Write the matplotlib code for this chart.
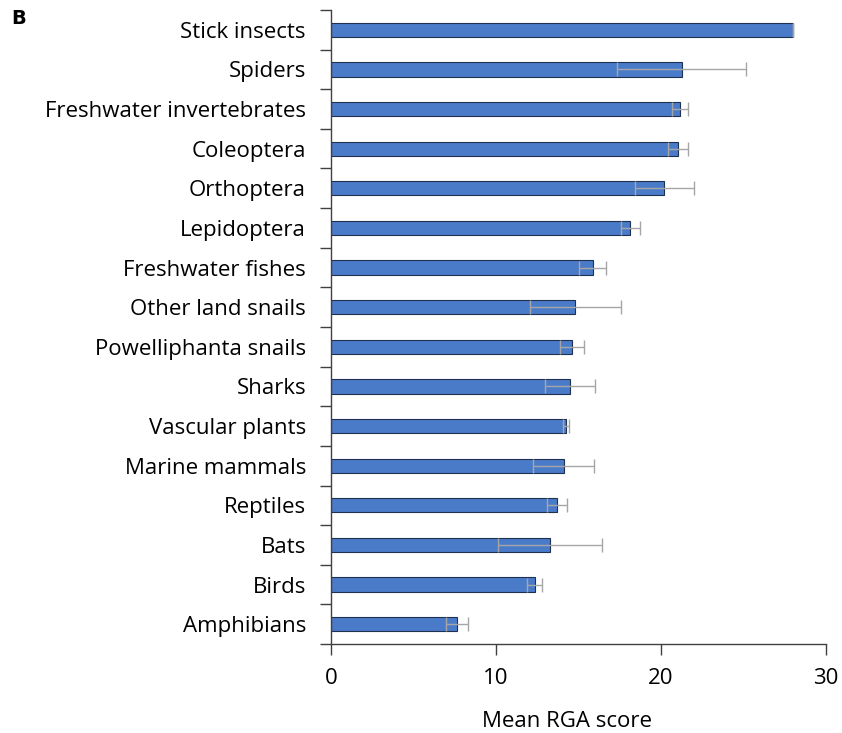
import numpy as np
import matplotlib.pyplot as plt
from matplotlib.ticker import FixedLocator

# Mean RGA score per taxonomic group, with error (+/-)
groups = [
    "Stick insects",
    "Spiders",
    "Freshwater invertebrates",
    "Coleoptera",
    "Orthoptera",
    "Lepidoptera",
    "Freshwater fishes",
    "Other land snails",
    "Powelliphanta snails",
    "Sharks",
    "Vascular plants",
    "Marine mammals",
    "Reptiles",
    "Bats",
    "Birds",
    "Amphibians",
]
mean_score = [28.0, 21.25, 21.15, 21.05, 20.2, 18.15, 15.85, 14.8, 14.6, 14.5,
              14.25, 14.1, 13.7, 13.3, 12.35, 7.65]
err = [0.0, 3.9, 0.5, 0.6, 1.8, 0.55, 0.8, 2.75, 0.72, 1.5,
       0.17, 1.86, 0.6, 3.15, 0.45, 0.67]

plt.rcParams["font.family"] = ["Open Sans", "DejaVu Sans"]

fig = plt.figure(figsize=(8.42, 7.33), dpi=100)
ax = fig.add_axes([0.3931, 0.1214, 0.5879, 0.865])

y = np.arange(len(groups))
ax.barh(y, mean_score, height=0.36, color="#4a7bc9", edgecolor="#1f3050",
        linewidth=0.8, zorder=2)
ax.errorbar(mean_score, y, xerr=err, fmt="none", ecolor="#a6a6a6",
            elinewidth=1.0, capsize=5, capthick=1.0, zorder=3)

ax.set_xlim(0, 30)
ax.set_ylim(len(groups) - 0.5, -0.5)
ax.set_xticks([0, 10, 20, 30])
ax.set_yticks(y)
ax.set_yticklabels(groups)
ax.yaxis.set_minor_locator(FixedLocator(np.arange(-0.5, len(groups), 1.0)))

for side in ["top", "right"]:
    ax.spines[side].set_visible(False)
for side in ["left", "bottom"]:
    ax.spines[side].set_color("#404040")
    ax.spines[side].set_linewidth(1.0)

ax.tick_params(axis="y", which="major", length=0, pad=18, labelsize=16)
ax.tick_params(axis="y", which="minor", length=8, color="#404040", width=1.0)
ax.tick_params(axis="x", which="major", length=8, color="#404040", width=1.0,
               pad=9, labelsize=16)

ax.set_xlabel("Mean RGA score", fontsize=16)
ax.xaxis.set_label_coords(0.477, -0.105)
fig.text(0.013, 0.988, "B", fontsize=14, fontweight="bold",
         family="DejaVu Sans", va="top", ha="left")

fig.savefig("out.png", dpi=100)
